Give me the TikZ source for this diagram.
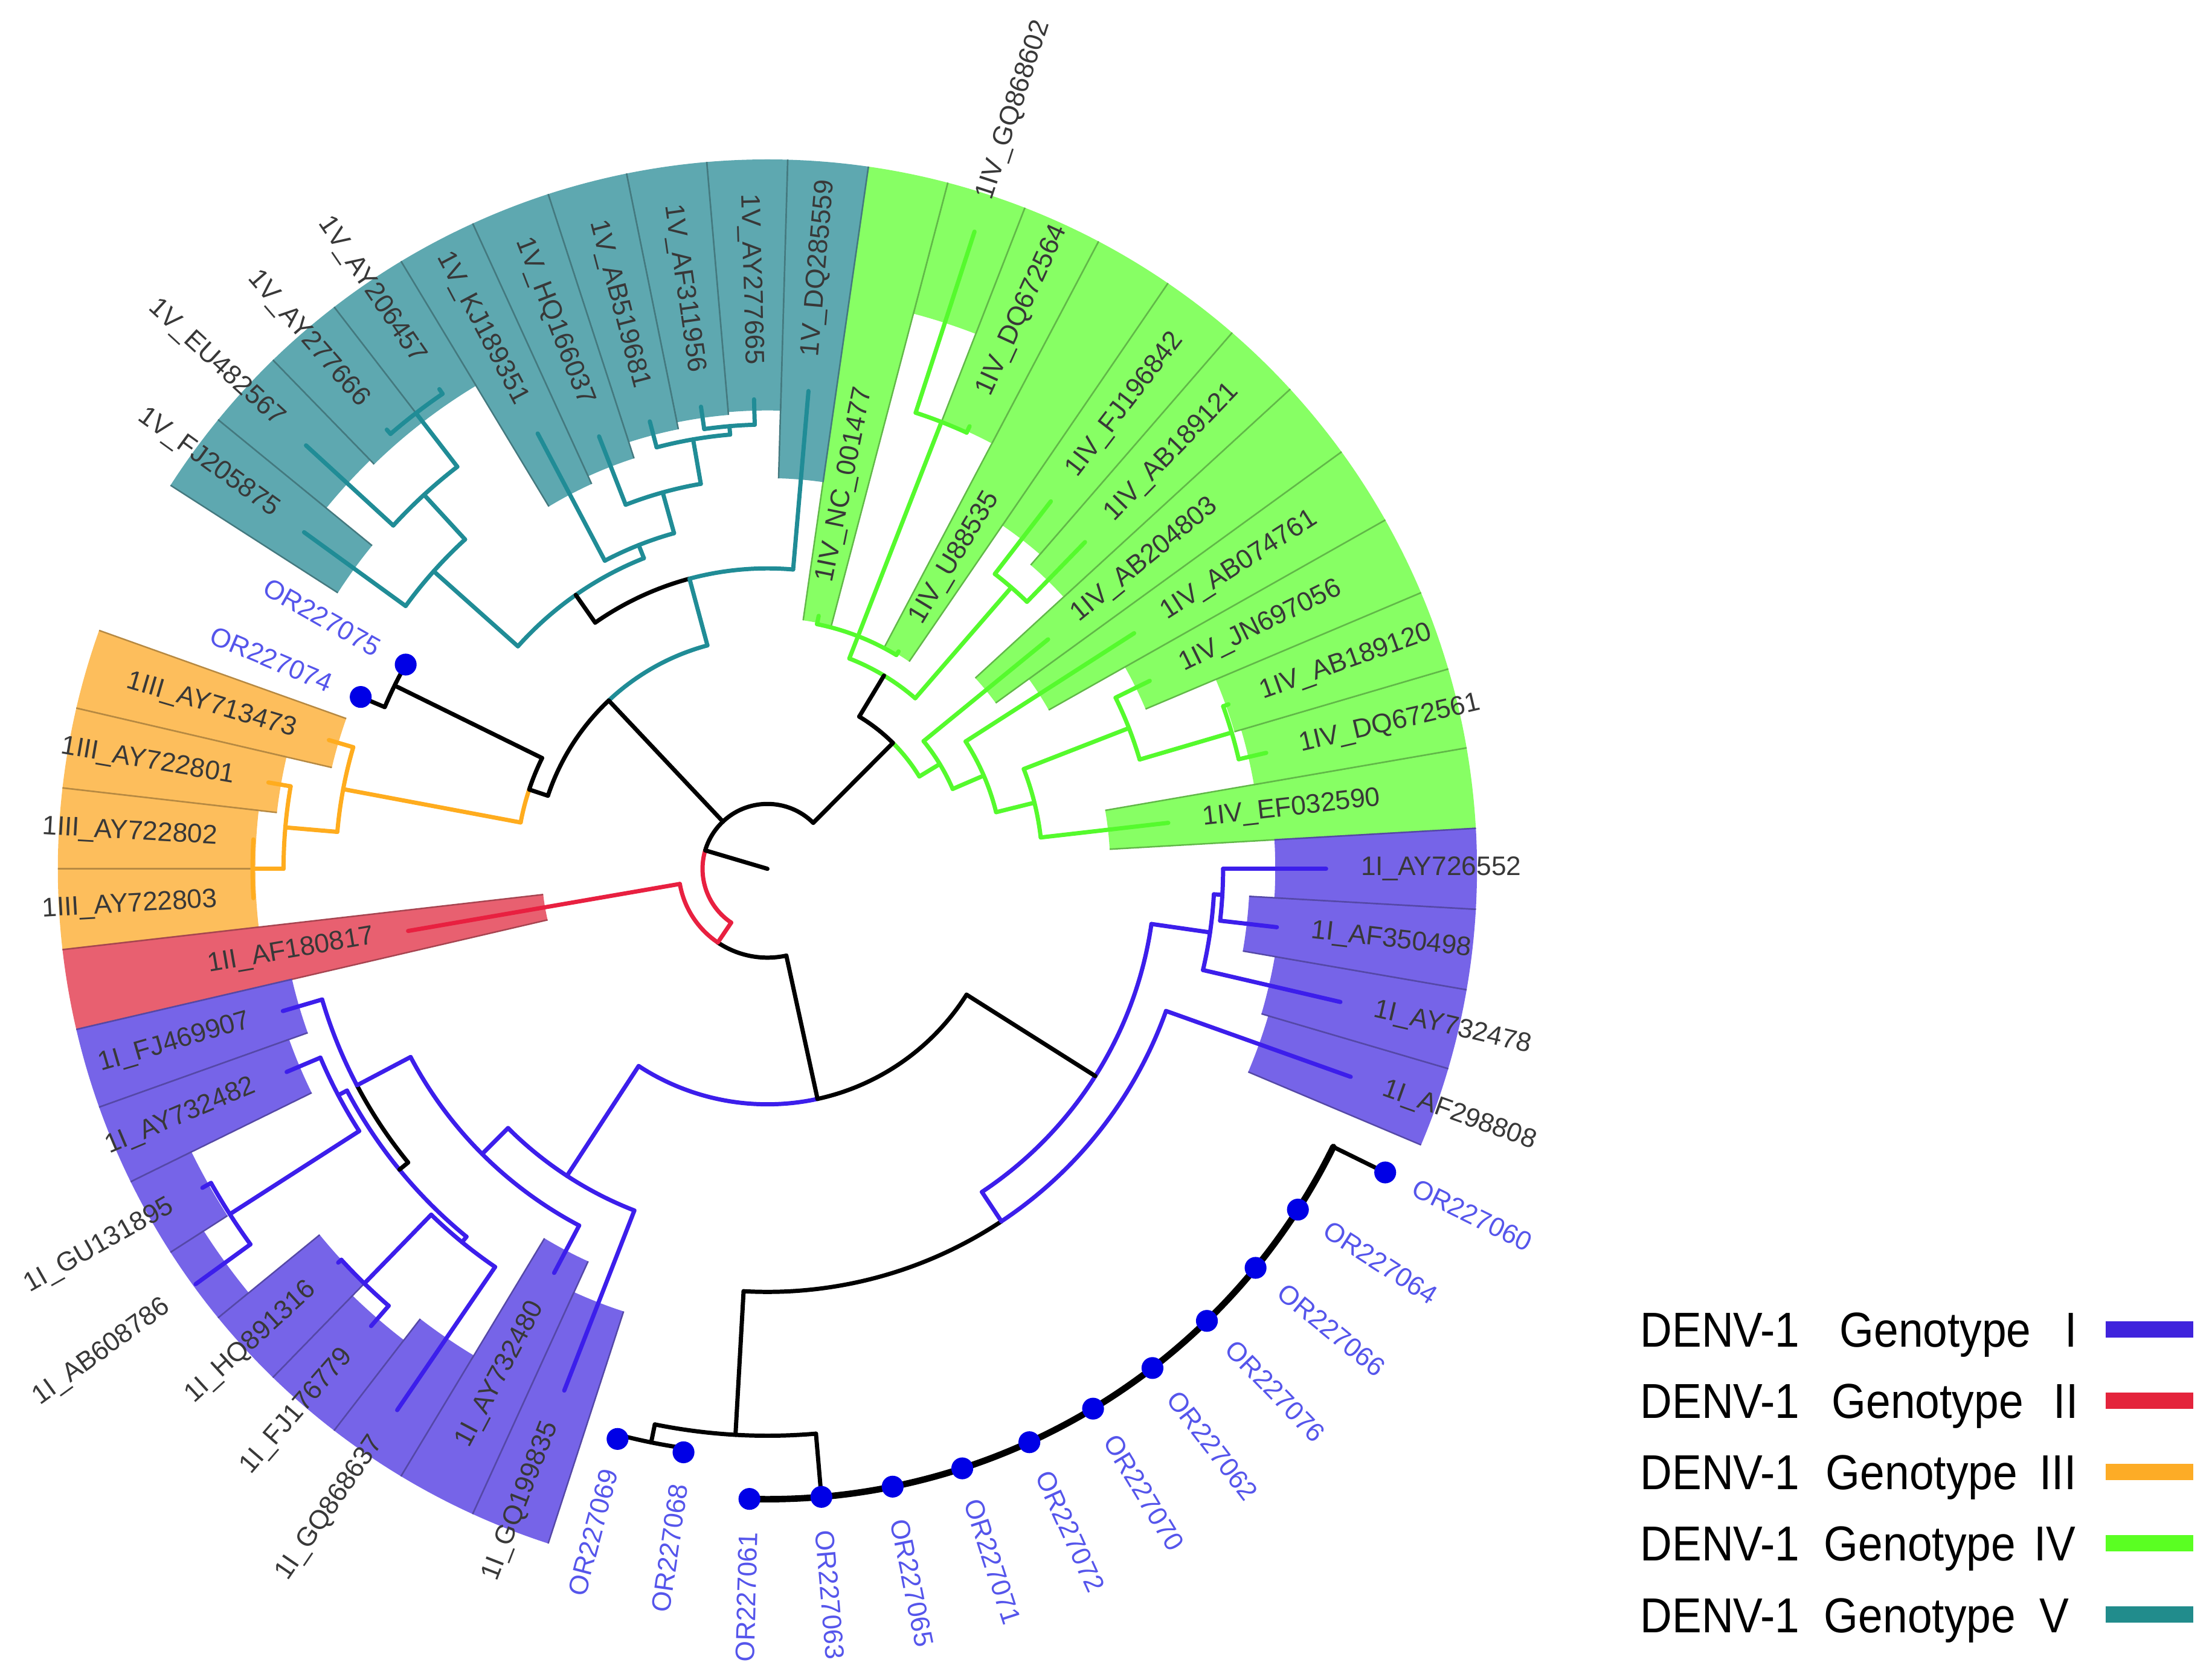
\documentclass[tikz,border=0pt]{standalone}
\usepackage{fontspec}
\setmainfont{Liberation Sans}
\newfontfamily\legendfont[FakeStretch=0.9]{Liberation Sans}
\usetikzlibrary{positioning}

\definecolor{brI}{RGB}{60,30,235}
\definecolor{brII}{RGB}{232,32,64}
\definecolor{brIII}{RGB}{255,172,30}
\definecolor{brIV}{RGB}{85,250,45}
\definecolor{brV}{RGB}{32,140,150}
\definecolor{wI}{RGB}{118,100,232}
\definecolor{wII}{RGB}{232,96,112}
\definecolor{wIII}{RGB}{253,190,92}
\definecolor{wIV}{RGB}{135,255,100}
\definecolor{wV}{RGB}{94,168,176}
\definecolor{lgI}{RGB}{63,35,220}
\definecolor{lgII}{RGB}{228,36,60}
\definecolor{lgIII}{RGB}{253,172,38}
\definecolor{lgIV}{RGB}{90,255,34}
\definecolor{lgV}{RGB}{33,140,140}
\definecolor{dotblue}{RGB}{0,0,230}
\definecolor{orblue}{RGB}{85,85,235}
\colorlet{labgrey}{black!78}

\begin{document}
\begin{tikzpicture}
\tikzstyle{branch} = [line width=0.85pt, line cap=round]
\tikzstyle{leaflab} = [font=\fontsize{5.4}{6}\selectfont, inner sep=0pt]
\tikzstyle{ordot} = [circle, fill=dotblue, inner sep=0pt, minimum size=0.155cm]
\tikzstyle{legtext} = [font=\legendfont\fontsize{9.9}{11}\selectfont, inner sep=0pt, anchor=base west]

\useasboundingbox (-5.44,-5.75) rectangle (10.24,6.16);

% coloured ranges behind the leaves
\foreach \idx/\rad/\fc [evaluate=\idx as \lo using \idx*6.545454-3.2727,
                        evaluate=\idx as \hi using \idx*6.545454+3.2727] in
  {1/2.43/wIV, 2/3.50/wIV, 3/3.45/wIV, 4/2.91/wIV, 5/2.29/wIV, 6/2.00/wIV,
   7/2.85/wIV, 8/2.95/wIV, 9/1.78/wIV, 10/3.41/wIV, 11/4.07/wIV, 12/1.78/wIV,
   13/2.77/wV, 14/3.25/wV, 15/3.23/wV, 16/3.18/wV, 17/3.06/wV, 18/3.00/wV,
   19/4.00/wV, 20/4.00/wV, 21/4.04/wV, 22/3.62/wV,
   25/3.17/wIII, 26/3.50/wIII, 27/3.63/wIII, 28/3.63/wIII,
   29/1.60/wII,
   30/3.46/wI, 31/3.60/wI, 32/4.55/wI, 33/4.75/wI, 34/4.10/wI, 35/4.22/wI,
   36/4.03/wI, 37/3.06/wI, 38/3.30/wI,
   52/3.70/wI, 53/3.65/wI, 54/3.42/wI, 55/3.60/wI}{
  \fill[fill=\fc] (\lo:\rad) arc[start angle=\lo, end angle=\hi, radius=\rad]
    -- (\hi:5.03) arc[start angle=\hi, end angle=\lo, radius=5.03] -- cycle;
  \draw[draw=\fc!72!black, line width=0.3pt] (\lo:\rad) -- (\lo:5.03) (\hi:\rad) -- (\hi:5.03);
}

% tree: arcs (radius/from/to/colour)
\foreach \rad/\a/\b/\col in
  {0.46/45.102/163.5/black, 0.46/163.5/236.048/brII,
   0.63/189.818/236.048/brII, 0.63/236.048/282.278/black,
   1.67/236.864/282.278/brI, 1.67/282.278/327.693/black,
   2.75/303.567/351.818/brI,
   3.0/266.77/303.567/black, 3.0/303.567/340.364/brI,
   3.17/346.909/356.727/brI, 3.23/353.455/360/brI,
   4.02/258.545/274.909/black, 4.15/255.273/261.818/black,
   2.6/225/248.727/brI, 2.86/207.818/242.182/brI,
   3.29/196.364/207.818/brI, 3.29/207.818/219.273/black,
   3.37/207.818/230.727/brI, 3.44/202.909/212.727/brI, 4.53/209.455/216/brI,
   3.42/225.818/235.636/brI, 4.10/222.545/229.091/brI,
   1.64/105.034/133.313/brV, 1.64/133.313/161.591/black,
   2.13/85.091/105.034/brV, 2.13/105.034/124.977/black,
   2.37/111.682/138.273/brV, 2.47/105.545/117.818/brV, 2.77/99.818/111.273/brV,
   3.09/94.909/104.727/brV, 3.15/91.636/98.182/brV,
   3.17/132.545/144/brV, 3.6/127.636/137.455/brV, 4.08/124.364/130.909/brV,
   1.78/153.818/161.591/black, 1.78/161.591/169.364/brIII,
   2.945/150.545/157.091/black,
   3.06/163.636/175.091/brIII, 3.43/170.182/180/brIII, 3.65/176.727/183.273/brIII,
   1.26/31.295/45.102/brIV, 1.26/45.102/58.909/black,
   1.6/49.091/68.727/brIV, 2.64/45.818/52.364/brIV, 1.77/58.909/78.545/brIV,
   3.4/65.455/72/brIV, 1.43/23.318/39.273/brIV, 1.67/13.909/32.727/brIV,
   1.95/6.545/21.273/brIV, 2.75/16.364/26.182/brIV, 3.43/13.091/19.636/brIV}{
  \draw[branch, color=\col] (\a:\rad) arc[start angle=\a, end angle=\b, radius=\rad];
}
\draw[branch, line width=1.3pt] (268.364:4.47) arc[start angle=268.364, end angle=333.818, radius=4.47];

% tree: radial branches (angle/inner/outer/colour)
\foreach \a/\p/\q/\col in
  {163.5/0/0.46/black, 45.102/0.46/1.26/black, 133.313/0.46/1.64/black, 236.048/0.46/0.63/brII,
   189.818/0.63/2.585/brII, 282.278/0.63/1.67/black,
   236.864/1.67/2.6/brI, 327.693/1.67/2.75/black,
   303.567/2.75/3.0/brI, 351.818/2.75/3.17/brI,
   340.364/3.0/4.39/brI, 266.77/3.0/4.02/black,
   346.909/3.17/4.17/brI, 356.727/3.17/3.23/brI, 353.455/3.23/3.635/brI, 0/3.23/3.96/brI,
   258.545/4.02/4.15/black, 255.273/4.15/4.18/black, 261.818/4.15/4.18/black,
   274.909/4.02/4.47/black, 333.818/4.47/4.88/black,
   225/2.6/2.86/brI, 248.727/2.6/3.97/brI, 207.818/2.86/3.29/brI, 242.182/2.86/3.24/brI,
   196.364/3.29/3.58/brI, 219.273/3.29/3.37/black, 207.818/3.37/3.44/brI, 230.727/3.37/3.42/brI,
   202.909/3.44/3.70/brI, 212.727/3.44/4.53/brI, 209.455/4.53/4.60/brI, 216/4.53/5.01/brI,
   225.818/3.42/4.10/brI, 235.636/3.42/4.65/brI, 222.545/4.10/4.13/brI, 229.091/4.10/4.29/brI,
   105.034/1.64/2.13/brV, 161.591/1.64/1.78/black,
   85.091/2.13/3.40/brV, 124.977/2.13/2.37/black,
   111.682/2.37/2.47/brV, 138.273/2.37/3.17/brV,
   117.818/2.47/3.49/brV, 105.545/2.47/2.77/brV,
   111.273/2.77/3.29/brV, 99.818/2.77/3.09/brV,
   104.727/3.09/3.28/brV, 94.909/3.09/3.15/brV,
   91.636/3.15/3.33/brV, 98.182/3.15/3.31/brV,
   132.545/3.17/3.6/brV, 144/3.17/4.06/brV,
   127.636/3.6/4.08/brV, 137.455/3.6/4.44/brV,
   124.364/4.08/4.12/brV, 130.909/4.08/4.12/brV,
   153.818/1.78/2.945/black, 157.091/2.945/3.13/black,
   169.364/1.78/3.06/brIII, 163.636/3.06/3.24/brIII, 175.091/3.06/3.43/brIII,
   170.182/3.43/3.59/brIII, 180/3.43/3.65/brIII,
   58.909/1.26/1.6/black, 31.295/1.26/1.43/brIV,
   49.091/1.6/2.64/brIV, 68.727/1.6/1.77/brIV,
   45.818/2.64/3.23/brIV, 52.364/2.64/3.29/brIV,
   58.909/1.77/1.80/brIV, 78.545/1.77/1.83/brIV, 68.727/1.77/3.4/brIV,
   65.455/3.4/3.45/brIV, 72/3.4/4.75/brIV,
   39.273/1.43/2.57/brIV, 23.318/1.43/1.67/brIV,
   32.727/1.67/3.09/brIV, 13.909/1.67/1.95/brIV,
   6.545/1.95/2.86/brIV, 21.273/1.95/2.75/brIV,
   26.182/2.75/3.02/brIV, 16.364/2.75/3.43/brIV,
   13.091/3.43/3.63/brIV, 19.636/3.43/3.47/brIV}{
  \draw[branch, color=\col] (\a:\p) -- (\a:\q);
}

% sample dots
\foreach \idx/\rad [evaluate=\idx as \ang using \idx*6.545454] in
  {23/2.945, 24/3.13, 39/4.18, 40/4.18, 41/4.47, 42/4.47, 43/4.47, 44/4.47,
   45/4.47, 46/4.47, 47/4.47, 48/4.47, 49/4.47, 50/4.47, 51/4.88}{
  \node[ordot] (dot\idx) at (\ang:\rad) {};
}

% leaf labels, right half (read outwards)
\foreach \idx/\rad/\txt/\tc [evaluate=\idx as \ang using \idx*6.545454] in
  {1/3.10/1IV\_EF032590/labgrey, 2/3.87/1IV\_DQ672561/labgrey, 3/3.71/1IV\_AB189120/labgrey,
   4/3.26/1IV\_JN697056/labgrey, 5/3.33/1IV\_AB074761/labgrey, 6/2.81/1IV\_AB204803/labgrey,
   7/3.47/1IV\_AB189121/labgrey, 8/3.53/1IV\_FJ196842/labgrey, 9/2.04/1IV\_U88535/labgrey,
   10/3.69/1IV\_DQ672564/labgrey, 11/4.99/1IV\_GQ868602/labgrey, 12/2.07/1IV\_NC\_001477/labgrey,
   13/3.64/1V\_DQ285559/labgrey,
   42/4.70/OR227063/orblue, 43/4.70/OR227065/orblue, 44/4.70/OR227071/orblue,
   45/4.70/OR227072/orblue, 46/4.70/OR227070/orblue, 47/4.70/OR227062/orblue,
   48/4.70/OR227076/orblue, 49/4.70/OR227066/orblue, 50/4.70/OR227064/orblue,
   51/5.10/OR227060/orblue,
   52/4.63/1I\_AF298808/labgrey, 53/4.41/1I\_AY732478/labgrey,
   54/3.875/1I\_AF350498/labgrey, 55/4.20/1I\_AY726552/labgrey}{
  \node[leaflab, text=\tc, anchor=west, rotate=\ang] (lab\idx) at (\ang:\rad) {\txt};
}

% leaf labels, left half (read inwards)
\foreach \idx/\rad/\txt/\tc [evaluate=\idx as \ang using \idx*6.545454] in
  {14/3.57/1V\_AY277665/labgrey, 15/3.55/1V\_AF311956/labgrey, 16/3.52/1V\_AB519681/labgrey,
   17/3.53/1V\_HQ166037/labgrey, 18/3.73/1V\_KJ189351/labgrey, 19/4.36/1V\_AY206457/labgrey,
   20/4.36/1V\_AY277666/labgrey, 21/4.68/1V\_EU482567/labgrey, 22/4.30/1V\_FJ205875/labgrey,
   23/3.16/OR227075/orblue, 24/3.35/OR227074/orblue,
   25/3.48/1III\_AY713473/labgrey, 26/3.83/1III\_AY722801/labgrey,
   27/3.90/1III\_AY722802/labgrey, 28/3.90/1III\_AY722803/labgrey,
   29/2.825/1II\_AF180817/labgrey,
   30/3.82/1I\_FJ469907/labgrey, 31/3.94/1I\_AY732482/labgrey, 32/4.84/1I\_GU131895/labgrey,
   33/5.25/1I\_AB608786/labgrey, 34/4.37/1I\_HQ891316/labgrey, 35/4.53/1I\_FJ176779/labgrey,
   36/4.89/1I\_GQ868637/labgrey, 37/3.48/1I\_AY732480/labgrey, 38/4.21/1I\_GQ199835/labgrey,
   39/4.40/OR227069/orblue, 40/4.40/OR227068/orblue, 41/4.70/OR227061/orblue}{
  \node[leaflab, text=\tc, anchor=east, rotate=\ang+180] (lab\idx) at (\ang:\rad) {\txt};
}

% legend
\foreach \y/\gx/\nx/\num/\col in
  {-3.265/7.593/9.19/I/lgI, -3.770/7.538/9.11/II/lgII, -4.277/7.496/9.01/III/lgIII,
   -4.783/7.483/8.97/IV/lgIV, -5.289/7.483/9.01/V/lgV}{
  \node[legtext] (denv\num) at (6.18,\y-0.125) {DENV-1};
  \node[legtext] (geno\num) at (\gx,\y-0.125) {Genotype};
  \node[legtext] (type\num) at (\nx,\y-0.125) {\num};
  \fill[fill=\col] (9.486,\y-0.058) rectangle (10.108,\y+0.058);
}
\end{tikzpicture}
\end{document}
